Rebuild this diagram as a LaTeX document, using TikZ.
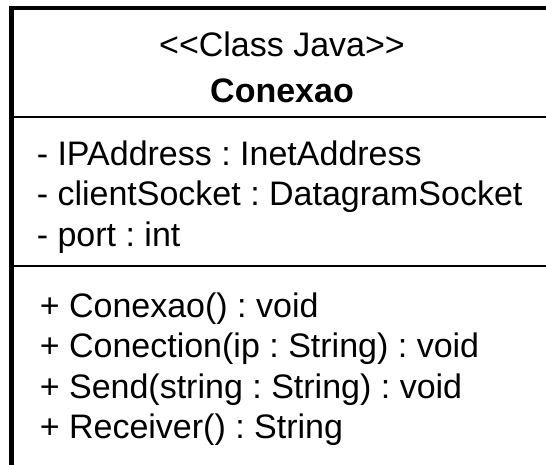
\documentclass[tikz,border=0pt]{standalone}
\usepackage{fontspec}
\setmainfont{Liberation Sans}
\frenchspacing
\begin{document}
\begin{tikzpicture}[x=1pt,y=-1pt,
  umltext/.style={inner sep=0pt, outer sep=0pt, font=\fontsize{34}{40}\selectfont\frenchspacing},
  member/.style={umltext, anchor=base west},
  border/.style={line width=4.5pt, line join=miter},
  divider/.style={line width=2pt}]
\useasboundingbox (0,0) rectangle (546,464);
\clip (0,0) rectangle (546,464);
% box frame (continues past the right and bottom edges)
\coordinate (tl) at (11.3,8.2);
\coordinate (bl) at (11.3,480);
\coordinate (tr) at (570,8.2);
\coordinate (d1l) at (11.3,116.5);
\coordinate (d1r) at (570,116.5);
\coordinate (d2l) at (11.3,266);
\coordinate (d2r) at (570,266);
\draw[border] (bl) -- (tl) -- (tr);
\draw[divider] (d1l) -- (d1r);
\draw[divider] (d2l) -- (d2r);
% header
\node[umltext, anchor=base] (ster) at (282,56) {<\kern0pt<Class Java>\kern0pt>};
\node[umltext, anchor=base, font=\fontsize{34}{40}\selectfont\bfseries] (name) at (282,102) {Conexao};
% attributes
\node[member] (a1) at (36.8,165) {- IPAddress : InetAddress};
\node[member] (a2) at (36.8,205.5) {- clientSocket : DatagramSocket};
\node[member] (a3) at (36.8,246) {- port : int};
% operations
\node[member] (m1) at (39.8,317) {+ Conexao() : void};
\node[member] (m2) at (39.8,357.5) {+ Conection(ip : String) : void};
\node[member] (m3) at (39.8,398) {+ Send(string : String) : void};
\node[member] (m4) at (39.8,438.5) {+ Receiver() : String};
\end{tikzpicture}
\end{document}
